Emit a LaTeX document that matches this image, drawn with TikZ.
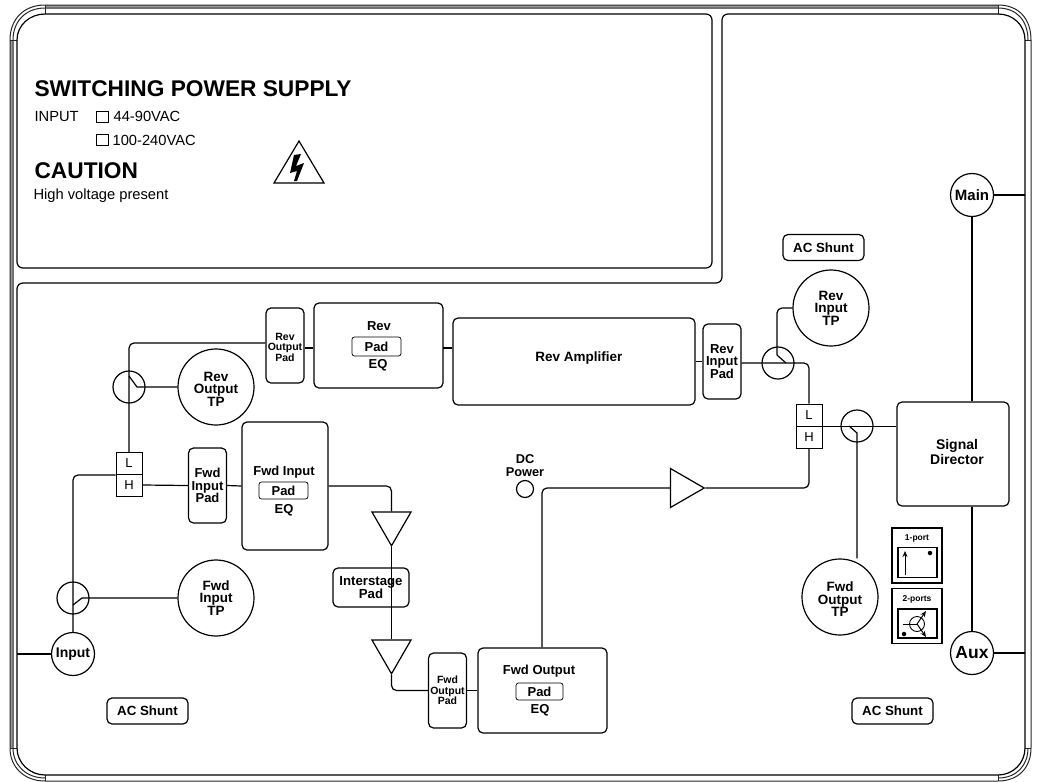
\documentclass[tikz,border=0pt]{standalone}
\usepackage{fontspec}
\setmainfont{Liberation Sans}
\usetikzlibrary{shapes.geometric}
\usetikzlibrary{arrows.meta}

\begin{document}
\begin{tikzpicture}
  [x=1pt,y=-1pt,line width=1.2pt,
  frameline/.style={line width=1pt,draw=black!85},
  frameband/.style={line width=2.4pt,draw=black!40},
  panel/.style={line width=1.2pt},
  block/.style={draw,rounded corners=5pt,inner sep=0pt,align=center,font=\bfseries\fontsize{13.5}{12.5}\selectfont},
  acshunt/.style={block,minimum width=81pt,minimum height=26pt,font=\bfseries\fontsize{13.3}{13}\selectfont},
  tinypad/.style={block,minimum width=38pt,minimum height=75pt,font=\bfseries\fontsize{10.5}{10.5}\selectfont},
  smallpad/.style={block,minimum width=38pt,minimum height=75pt,font=\bfseries\fontsize{13}{12.5}\selectfont},
  padlabel/.style={draw,line width=0.7pt,rounded corners=2.5pt,inner sep=0pt,font=\bfseries\fontsize{13}{13}\selectfont},
  caption/.style={inner sep=0pt,align=center,font=\bfseries\fontsize{13}{13}\selectfont},
  tpname/.style={caption,font=\bfseries\fontsize{13.5}{12.5}\selectfont},
  tp/.style={circle,draw,inner sep=0pt,minimum size=76pt,align=center,font=\bfseries\fontsize{13.5}{12.5}\selectfont},
  port/.style={circle,draw,inner sep=0pt,minimum size=43pt,font=\bfseries\fontsize{14}{14}\selectfont},
  coupler/.style={circle,draw,inner sep=0pt,minimum size=32pt},
  lhbox/.style={draw,line width=1pt,inner sep=0pt,minimum width=26pt,minimum height=22pt,font=\fontsize{13}{13}\selectfont},
  ampdown/.style={regular polygon,regular polygon sides=3,shape border rotate=180,draw,inner sep=0pt,minimum size=45pt},
  ampright/.style={regular polygon,regular polygon sides=3,shape border rotate=-90,draw,inner sep=0pt,minimum size=45pt},
  heading/.style={anchor=base west,inner sep=0pt,font=\bfseries\fontsize{22.7}{22.7}\selectfont},
  plain/.style={anchor=base west,inner sep=0pt,font=\fontsize{14.7}{14.7}\selectfont},
  check/.style={draw,line width=0.9pt,inner sep=0pt,minimum width=12pt,minimum height=11pt},
  legend/.style={draw,inner sep=0pt,minimum width=50pt,minimum height=55pt},
  legendin/.style={draw,inner sep=0pt,minimum width=39pt,minimum height=30pt},
  legendtxt/.style={inner sep=0pt,font=\bfseries\fontsize{8.5}{8.5}\selectfont},
  pointer/.style={-{Stealth[length=6pt,width=5pt]},line width=1pt},
  dot/.style={circle,fill=black,inner sep=0pt,minimum size=4.5pt}]
  \useasboundingbox (0,0) rectangle (1042,782);

  % outer case
  \draw [frameband] (45,6.5) -- (998,6.5);
  \draw [frameband] (11.5,40) -- (11.5,748);
  \draw [frameline] (45,5) -- (998,5) .. controls (1019,5) and (1031,19) .. (1031,40) -- (1031,748) .. controls (1031,767) and (1019,781) .. (998,781) -- (45,781) .. controls (24,781) and (10,767) .. (10,748) -- (10,40) .. controls (10,19) and (24,5) .. (45,5);
  \draw [frameline] (13,748) -- (13,40) .. controls (13,21) and (26,8) .. (45,8) -- (998,8) .. controls (1017,8) and (1028,21) .. (1028,40);
  \draw [frameline] (45,778) .. controls (26,778) and (13,765) .. (13,748);
  \draw [frameline] (1028,748) .. controls (1028,765) and (1017,778) .. (998,778);
  \draw [frameline] (45,5) -- (45,14) (998,5) -- (998,14) (10,40) -- (17,40) (1025,40) -- (1031,40);
  \draw [frameline] (10,748) -- (17,748) (1025,748) -- (1031,748) (45,775) -- (45,781) (998,775) -- (998,781);

  % panels
  \draw [panel,rounded corners=6pt] (45,14) -- (712,14) -- (712,268) -- (17,268) -- (17,40);
  \draw [panel] (17,40) .. controls (17,25) and (30,14) .. (45,14);
  \draw [panel,rounded corners=6pt] (998,14) -- (722,14) -- (722,283) -- (17,283) -- (17,748);
  \draw [panel] (17,748) .. controls (17,763) and (30,775) .. (45,775) -- (998,775) .. controls (1013,775) and (1025,763) .. (1025,748) -- (1025,40) .. controls (1025,25) and (1013,14) .. (998,14);

  \node[heading] (title) at (34,96.5) {SWITCHING POWER SUPPLY};
  \node[plain] (inputlabel) at (34,121.5) {INPUT};
  \node[check] (check1) at (102,116.5) {};
  \node[plain] (range1) at (113,121.5) {44-90VAC};
  \node[check] (check2) at (102,139.5) {};
  \node[plain] (range2) at (112,145) {100-240VAC};
  \node[heading] (caution) at (34,178) {CAUTION};
  \node[plain] (highvolt) at (33,199) {High voltage present};

  \draw [line join=miter] (299,141) -- (324,183) -- (274,183) -- cycle;
  \fill (294,155) -- (301,154) -- (296,166) -- (304,163) -- (297,181) -- (294,181) -- (297,171) -- (290,173) -- cycle;

  \node[acshunt] (shunt1) at (823.5,247.5) {AC Shunt};
  \node[acshunt] (shunt2) at (147.5,711) {AC Shunt};
  \node[acshunt] (shunt3) at (892.5,711) {AC Shunt};

  \node[port,font=\bfseries\fontsize{15}{15}\selectfont] (main) at (972,195) {Main};
  \node[port,font=\bfseries\fontsize{17.5}{17.5}\selectfont] (aux) at (972,653) {Aux};
  \node[port] (input) at (73,654) {Input};
  \node[block,minimum width=112pt,minimum height=104pt] (director) at (953,454) {};
  \node[tpname,font=\bfseries\fontsize{14}{12.5}\selectfont] (directorname) at (957,452) {Signal\\Director};

  \node[tp] (revitp) at (831,308) {Rev\\Input\\TP};
  \node[tp] (revotp) at (216,387) {};
  \node[tpname] (revotpname) at (216,389) {Rev\\Output\\TP};
  \node[tp] (fwditp) at (216,598) {Fwd\\Input\\TP};
  \node[tp] (fwdotp) at (840,597) {};
  \node[tpname] (fwdotpname) at (840,599.5) {Fwd\\Output\\TP};

  \node[coupler] (cplrevi) at (778,363) {};
  \node[coupler] (cplfwdo) at (857,426) {};
  \node[coupler] (cplrevo) at (129,387) {};
  \node[coupler] (cplfwdi) at (73,598) {};

  \node[lhbox] (l1) at (129,463.5) {L};
  \node[lhbox] (h1) at (129,485) {H};
  \node[lhbox] (l2) at (809,415) {L};
  \node[lhbox] (h2) at (809,437) {H};

  \node[smallpad] (revipad) at (722,361.5) {Rev\\Input\\Pad};
  \node[tinypad] (revopad) at (285,345.5) {};
  \node[caption,font=\bfseries\fontsize{10.5}{10.5}\selectfont] (revopadname) at (285,347) {Rev\\Output\\Pad};
  \node[smallpad] (fwdipad) at (207.5,485.5) {Fwd\\Input\\Pad};
  \node[tinypad] (fwdopad) at (447.5,690.5) {Fwd\\Output\\Pad};
  \node[block,minimum width=76pt,minimum height=39pt,font=\bfseries\fontsize{13.2}{13}\selectfont] (stagepad) at (371,587.5) {Interstage\\Pad};

  \node[block,minimum width=129pt,minimum height=85pt] (revbox) at (378.5,345.5) {};
  \node[caption] (revname) at (379,326) {Rev};
  \node[padlabel,minimum width=49pt,minimum height=19pt] (revpad) at (376.5,346.5) {Pad};
  \node[caption] (reveq) at (378,365) {EQ};

  \node[block,minimum width=86pt,minimum height=128pt] (fwdibox) at (285,486) {};
  \node[caption] (fwdiname) at (284,472) {Fwd Input};
  \node[padlabel,minimum width=49pt,minimum height=17pt] (fwdipadin) at (283.5,490.5) {Pad};
  \node[caption] (fwdieq) at (284,510) {EQ};

  \node[block,minimum width=129pt,minimum height=85pt] (fwdobox) at (542.5,690.5) {};
  \node[caption] (fwdoname) at (539,671) {Fwd Output};
  \node[padlabel,minimum width=47pt,minimum height=17pt] (fwdopadin) at (539.5,691.5) {Pad};
  \node[caption] (fwdoeq) at (540,710) {EQ};

  \node[block,minimum width=242pt,minimum height=87pt,font=\bfseries\fontsize{13.5}{13.5}\selectfont] (revamp) at (574,361.5) {};
  \node[caption,font=\bfseries\fontsize{13.5}{13.5}\selectfont] (revampname) at (579,358) {Rev Amplifier};

  \node[ampdown] (amp1) at (391.5,523.3) {};
  \node[ampdown] (amp2) at (391.5,651.3) {};
  \node[ampright] (amp3) at (681.7,488) {};

  \node[circle,draw,inner sep=0pt,minimum size=17pt] (dcport) at (525,489) {};
  \node[caption,font=\bfseries\fontsize{12.8}{13}\selectfont] (dclabel) at (525,465.5) {DC\\Power};

  \coordinate (mainedge) at (1025,195);
  \coordinate (auxedge) at (1025,653);
  \coordinate (inputedge) at (17,654);
  \coordinate (tapri) at (786,363);
  \coordinate (taprimid) at (777,355);
  \coordinate (tapfofoot) at (857,433);
  \coordinate (tapfomid) at (849,426);
  \coordinate (taproi) at (129,376);
  \coordinate (taprokn) at (137,387);
  \coordinate (tapfi) at (73,605);
  \coordinate (tapfikn) at (82,598);
  \coordinate (revbend) at (129,343);
  \coordinate (dcbend) at (542,488);
  \coordinate (revboxout) at (443,348);

  \draw (main) -- (mainedge);
  \draw (main) -- (director.north -| main);
  \draw (aux) -- (auxedge);
  \draw (aux) -- (director.south -| aux);
  \draw (input) -- (inputedge);

  \draw [rounded corners=5pt] (revipad.east |- cplrevi) -- (l2.north |- cplrevi) -- (l2.north);
  \draw [rounded corners=5pt] (revitp.west) -- (taprimid |- revitp) -- (taprimid);
  \draw (taprimid) -- (tapri);
  \draw (l2.south east) -- (director.west |- l2.south);
  \draw (tapfomid) -- (tapfofoot) -- (fwdotp.north -| tapfofoot);
  \draw [rounded corners=5pt] (h2.south) -- (h2.south |- amp3.corner 1) -- (amp3.corner 1);
  \draw [rounded corners=5pt] (amp3.side 2) -- (dcbend) -- (fwdobox.north -| dcbend);
  \draw (revamp.east |- revipad) -- (revipad.west);
  \draw (revboxout) -- (revboxout -| revamp.west);
  \draw (revboxout -| revbox.west) -- (revboxout -| revopad.east);
  \draw [rounded corners=5pt] (l1.north) -- (revbend) -- (revopad.west |- revbend);
  \draw (taproi) -- (taprokn) -- (revotp.west);
  \draw [rounded corners=5pt] (l1.south west) -- (l1.south west -| input) -- (input.north);
  \draw (tapfi) -- (tapfikn) -- (fwditp.west);
  \draw (h1.east) -- (fwdipad.west);
  \draw (fwdipad.east) -- (fwdibox.west);
  \draw [rounded corners=5pt] (fwdibox.east) -- (fwdibox.east -| amp1.side 2) -- (amp1.side 2);
  \draw (amp1.corner 1) -- (amp1.corner 1 |- stagepad.south);
  \draw (amp2.side 2) -- (amp2.side 2 |- stagepad.south);
  \draw [rounded corners=5pt] (amp2.corner 1) -- (amp2.corner 1 |- fwdopad) -- (fwdopad.west);
  \draw (fwdopad.east) -- (fwdobox.west);

  % port legend
  \node[legend] (legend1) at (917,555.5) {};
  \node[legendin] (legendin1) at (917.5,562.5) {};
  \node[legendtxt] (port1) at (917,538) {1-port};
  \node[dot] (dot1) at (930,553) {};
  \coordinate (arrowfoot) at (905,575);
  \coordinate (arrowtip) at (905,551);
  \draw [pointer] (arrowfoot) -- (arrowtip);

  \node[legend] (legend2) at (917,616) {};
  \node[legendin,minimum height=29pt] (legendin2) at (917.5,623.5) {};
  \node[legendtxt] (port2) at (917,599) {2-ports};
  \node[dot] (dot2) at (904,634) {};
  \node[circle,draw,line width=0.9pt,inner sep=0pt,minimum size=15pt] (hub) at (917,624) {};
  \coordinate (hubleft) at (903,624);
  \coordinate (hubup) at (926,611);
  \coordinate (hubdown) at (926,637);
  \draw [line width=0.9pt] (hubleft) -- (hub.center);
  \draw [pointer] (hub.center) -- (hubup);
  \draw [pointer] (hub.center) -- (hubdown);
\end{tikzpicture}
\end{document}
